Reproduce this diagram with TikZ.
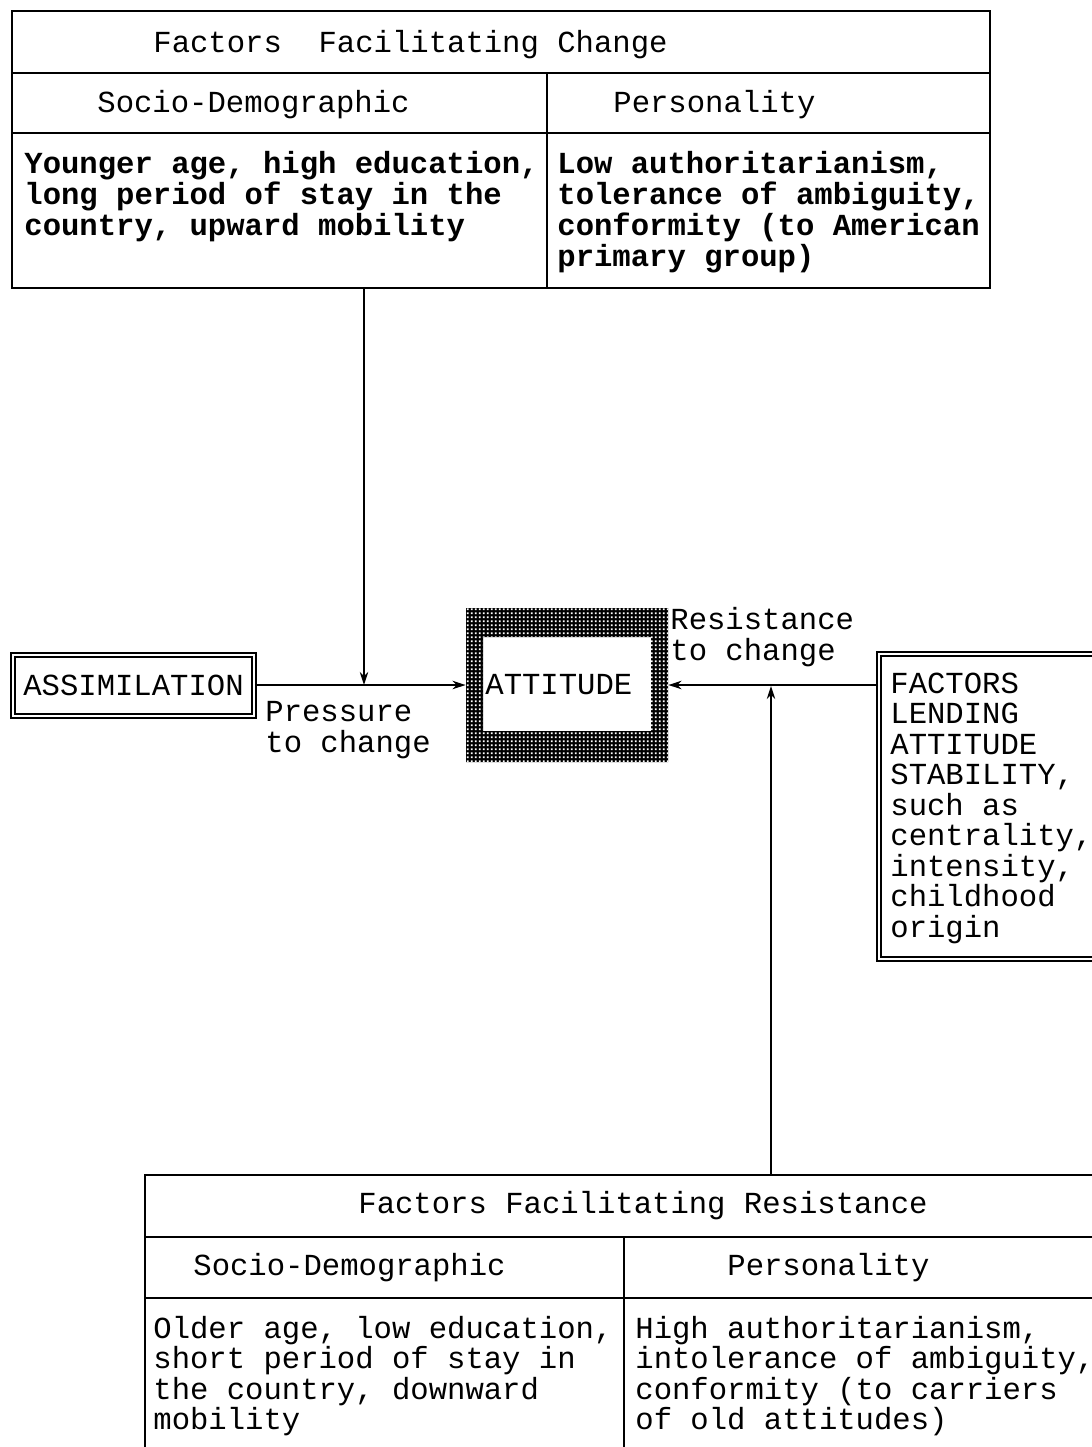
\documentclass[tikz,border=0pt]{standalone}
\usepackage{fontspec}
\setmonofont{Liberation Mono}
\usetikzlibrary{arrows.meta,fit,patterns.meta}
\tikzdeclarepattern{
  name=wdots,
  type=uncolored,
  bounding box={(0,0) and (1.85pt,1.85pt)},
  tile size={(1.85pt,1.85pt)},
  code={\pgfpathrectangle{\pgfpoint{0.45pt}{0.45pt}}{\pgfpoint{0.95pt}{0.95pt}}\pgfusepath{fill}}
}
\begin{document}
\begin{tikzpicture}[x=0.5pt,y=-0.5pt,
  every node/.style={font=\ttfamily\fontsize{15.3}{15.25}\selectfont, inner sep=0pt},
  txt/.style={anchor=base west, align=left},
  btxt/.style={txt, font=\ttfamily\bfseries\fontsize{15.3}{15.5}\selectfont},
  tbl/.style={draw, line width=1.3pt, inner sep=0pt},
  rule/.style={line width=1.2pt},
  dbox/.style={draw, double, line width=0.8pt, double distance=1.1pt, inner sep=0pt},
  arr/.style={line width=0.8pt, -{Stealth[length=6.5pt,width=4.2pt,inset=2pt]}}
]
\clip (0,0) rectangle (1092,1447);
\fill[white] (0,0) rectangle (1092,1447);

% ---- top table
\node[tbl, fit={(12,11) (990,288)}] (chg) {};
\draw[rule] (12,73) -- (990,73);
\draw[rule] (12,133) -- (990,133);
\draw[rule] (547,73) -- (547,288);
\node[txt] (chgt) at (153,52) {Factors\ \ Facilitating Change};
\node[txt] (chgsd) at (97,112) {Socio-Demographic};
\node[txt] (chgp) at (613,112) {Personality};
% multi-line nodes: base = last line
\node[btxt] (chgl) at (24,235) {Younger age, high education,\\long period of stay in the\\country, upward mobility};
\node[btxt] (chgr) at (557,266) {Low authoritarianism,\\tolerance of ambiguity,\\conformity (to American\\primary group)};

% ---- assimilation
\node[dbox, fit={(13,655) (254,716)}] (assim) {};
\node (assimt) at (assim.center) {ASSIMILATION};

% ---- attitude
\fill[black, even odd rule] (466,608) rectangle (668,762) (483,637) rectangle (651,731);
\fill[pattern=wdots, pattern color=white, even odd rule] (466,608) rectangle (668,762) (483,637) rectangle (651,731);
\node[fit={(466,608) (668,762)}] (att) {};
\node[txt] (attt) at (485,694) {ATTITUDE};

% ---- factors lending stability
\node[dbox, fit={(879,654) (1110,959)}] (fac) {};
\node[txt] (fact) at (890,937) {FACTORS\\LENDING\\ATTITUDE\\STABILITY,\\such as\\centrality,\\intensity,\\childhood\\origin};

% ---- bottom table
\node[tbl, fit={(145,1175) (1120,1470)}] (res) {};
\draw[rule] (145,1237) -- (1120,1237);
\draw[rule] (145,1298) -- (1120,1298);
\draw[rule] (624,1237) -- (624,1470);
\node[txt] (rest) at (358,1213) {Factors Facilitating Resistance};
\node[txt] (ressd) at (193,1275) {Socio-Demographic};
\node[txt] (resp) at (727,1275) {Personality};
\node[txt] (resl) at (153,1429.5) {Older age, low education,\\short period of stay in\\the country, downward\\mobility};
\node[txt] (resr) at (635,1429.5) {High authoritarianism,\\intolerance of ambiguity,\\conformity (to carriers\\of old attitudes)};

% ---- labels
\node[txt] (press) at (265,752) {Pressure\\to change};
\node[txt] (resis) at (670,660) {Resistance\\to change};

% ---- connectors
\coordinate (j1) at (364,685);
\coordinate (j2) at (771,686);
\draw[arr] (chg.south -| j1) -- (j1);
\draw[arr] (assim.east |- att.west) -- (att.west);
\draw[arr] (att.east -| fac.west) -- (att.east);
\draw[arr] (res.north -| j2) -- (j2);
\end{tikzpicture}
\end{document}
